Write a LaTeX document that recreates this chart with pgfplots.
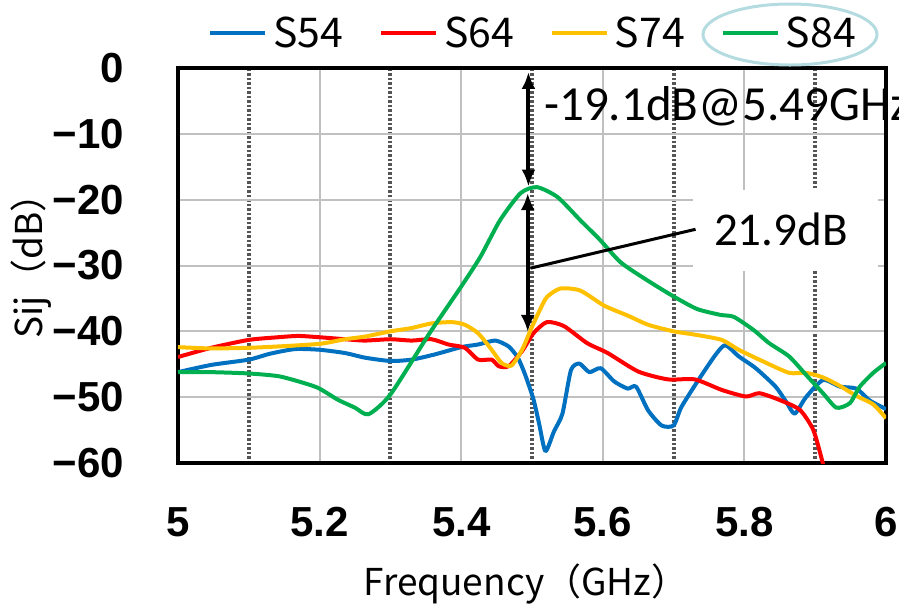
\documentclass[border=0pt]{standalone}
\usepackage{fontspec}
\setmainfont{Liberation Sans}
\newfontfamily\cjk{Noto Sans CJK JP}
\newfontfamily\calfont{Carlito}
\usepackage{pgfplots}
\pgfplotsset{compat=1.18}
\usetikzlibrary{arrows.meta}
\definecolor{sblue}{RGB}{0,112,192}
\definecolor{sred}{RGB}{255,0,0}
\definecolor{sorange}{RGB}{255,192,0}
\definecolor{sgreen}{RGB}{0,176,80}
\definecolor{gridgray}{RGB}{192,192,192}
\definecolor{dotgray}{RGB}{85,85,85}
\definecolor{ringcol}{RGB}{180,220,224}
\begin{document}
\begin{tikzpicture}
\begin{axis}[
    scale only axis,
    width=708pt, height=395pt,
    xmin=5, xmax=6, ymin=-60, ymax=0,
    clip mode=individual,
    xtick={5,5.2,5.4,5.6,5.8,6},
    xticklabels={5,5.2,5.4,5.6,5.8,6},
    minor xtick={5.1,5.3,5.5,5.7,5.9},
    ytick={-60,-50,-40,-30,-20,-10,0},
    yticklabels={−60,−50,−40,−30,−20,−10,0},
    major tick length=0pt, minor tick length=0pt,
    ticklabel style={font=\fontsize{42}{42}\selectfont\bfseries},
    xticklabel style={anchor=north, inner sep=0pt, yshift=-44pt},
    yticklabel style={anchor=east, inner sep=0pt, xshift=-54pt},
    xmajorgrids, xminorgrids, ymajorgrids,
    major grid style={gridgray, line width=2pt},
    minor grid style={dotgray, line width=4pt, dash pattern=on 2.5pt off 2pt},
    axis line style={line width=4pt, black},
    xlabel={Frequency（GHz）},
    ylabel={Sij（dB）},
    label style={font=\cjk\fontsize{37}{37}\selectfont},
    xlabel style={at={(axis description cs:0.4915,0)}, anchor=base, yshift=-132pt},
    ylabel style={at={(axis description cs:0,0.5215)}, anchor=base, yshift=135pt},
    legend columns=-1,
    legend image code/.code={\draw[#1] (0pt,0pt) -- (55pt,0pt);},
    legend style={draw=none, fill=none, at={(0.5,1.0886)}, anchor=center,
        font=\cjk\fontsize{41}{41}\selectfont, nodes={inner sep=0pt},
        /tikz/every odd column/.append style={column sep=6pt},
        /tikz/every even column/.append style={column sep=36pt}},
    every axis plot/.append style={line width=4pt, line join=round, smooth, tension=0.4},
]
% S54
\addplot[sblue] coordinates {
 (5.000,-46.2) (5.047,-45.1) (5.100,-44.3) (5.130,-43.4) (5.165,-42.7) (5.200,-42.8)
 (5.236,-43.3) (5.264,-44.0) (5.300,-44.5) (5.330,-44.3) (5.363,-43.5) (5.400,-42.4)
 (5.424,-42.0) (5.448,-41.4) (5.467,-42.3) (5.480,-44.0) (5.490,-46.5) (5.502,-50.3)
 (5.510,-54.0) (5.519,-58.2) (5.531,-55.2) (5.543,-52.5) (5.555,-45.9) (5.567,-44.9)
 (5.581,-46.2) (5.597,-45.6) (5.616,-47.6) (5.635,-48.7) (5.647,-48.4) (5.664,-52.0)
 (5.683,-54.3) (5.700,-54.3) (5.711,-51.5) (5.735,-47.4) (5.759,-43.6) (5.773,-42.1)
 (5.792,-43.8) (5.816,-45.6) (5.844,-48.4) (5.859,-50.7) (5.871,-52.5) (5.887,-50.0)
 (5.911,-47.4) (5.935,-48.4) (5.958,-48.7) (5.977,-50.5) (6.000,-51.8)
};
% S64
\addplot[sred] coordinates {
 (5.000,-43.9) (5.047,-42.5) (5.100,-41.3) (5.141,-40.9) (5.170,-40.7) (5.200,-40.9)
 (5.236,-41.2) (5.264,-41.4) (5.300,-41.2) (5.330,-41.4) (5.358,-41.2) (5.382,-42.0)
 (5.405,-42.5) (5.424,-44.3) (5.443,-44.3) (5.453,-45.3) (5.467,-45.3) (5.486,-43.0)
 (5.502,-40.3) (5.521,-38.6) (5.545,-39.2) (5.578,-41.8) (5.607,-43.3) (5.650,-46.1)
 (5.692,-47.3) (5.730,-47.3) (5.768,-48.9) (5.802,-49.9) (5.821,-49.4) (5.849,-50.4)
 (5.878,-51.9) (5.897,-54.9) (5.909,-59.3) (5.915,-62.0)
};
% S74
\addplot[sorange] coordinates {
 (5.000,-42.4) (5.047,-42.6) (5.100,-42.5) (5.141,-42.3) (5.200,-41.9) (5.236,-41.2)
 (5.264,-40.8) (5.300,-40.0) (5.330,-39.5) (5.358,-38.8) (5.387,-38.6) (5.405,-39.0)
 (5.424,-40.3) (5.443,-42.8) (5.457,-44.8) (5.471,-45.2) (5.486,-42.8) (5.498,-39.8)
 (5.510,-37.0) (5.521,-34.8) (5.540,-33.5) (5.568,-33.8) (5.602,-36.1) (5.635,-37.6)
 (5.664,-39.0) (5.700,-40.0) (5.730,-40.5) (5.768,-41.3) (5.792,-42.8) (5.825,-44.5)
 (5.863,-46.3) (5.887,-46.3) (5.911,-47.0) (5.935,-48.3) (5.958,-49.8) (5.982,-51.1)
 (6.000,-53.2)
};
% S84
\addplot[sgreen] coordinates {
 (5.000,-46.2) (5.047,-46.2) (5.100,-46.4) (5.141,-46.8) (5.170,-47.6) (5.198,-48.6)
 (5.226,-50.4) (5.250,-51.6) (5.269,-52.6) (5.300,-49.6) (5.354,-40.5) (5.400,-33.2)
 (5.427,-28.7) (5.455,-23.1) (5.484,-19.0) (5.507,-18.1) (5.536,-19.6) (5.568,-23.1)
 (5.596,-26.1) (5.625,-29.5) (5.662,-32.2) (5.700,-34.7) (5.733,-36.6) (5.766,-37.5)
 (5.785,-37.8) (5.813,-39.8) (5.835,-41.8) (5.863,-43.8) (5.887,-46.6) (5.911,-49.4)
 (5.930,-51.6) (5.949,-50.9) (5.963,-48.4) (5.982,-46.3) (6.000,-44.8)
};
\legend{S54,S64,S74,S84}
% annotations
\fill[white] (axis cs:5.727,-18.5) rectangle (axis cs:5.989,-30.8);
\draw[line width=4pt, {Latex[length=17pt,width=14pt]}-{Latex[length=17pt,width=14pt]}]
    (axis cs:5.495,-0.6) -- (axis cs:5.495,-18.0);
\draw[line width=4pt, {Latex[length=17pt,width=14pt]}-{Latex[length=17pt,width=14pt]}]
    (axis cs:5.494,-19.0) -- (axis cs:5.494,-40.1);
\draw[line width=3pt] (axis cs:5.498,-30.4) -- (axis cs:5.731,-24.5);
\node[anchor=base west, inner sep=0pt, font=\calfont\fontsize{47}{47}\selectfont]
    at (axis cs:5.757,-27.0) {21.9dB};
\node[anchor=base west, inner sep=0pt, font=\calfont\fontsize{49}{49}\selectfont]
    at (axis cs:5.517,-7.9) {-19.1dB@5.49GHz};
\draw[ringcol, line width=3pt] (rel axis cs:0.8644,1.0848) ellipse [x radius=87pt, y radius=30.5pt];
\coordinate (sw) at (rel axis cs:0,0);
\end{axis}
\pgfresetboundingbox
\path[use as bounding box] ([shift={(-178pt,-144pt)}]sw) rectangle ([shift={(721pt,463pt)}]sw);
\end{tikzpicture}
\end{document}
